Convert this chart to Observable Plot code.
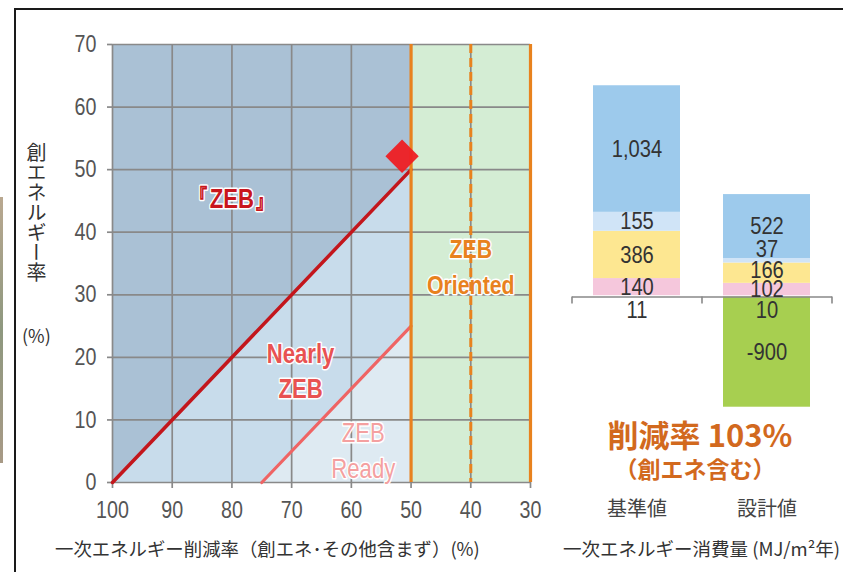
<!DOCTYPE html>
<html><head><meta charset="utf-8">
<script src="https://cdn.jsdelivr.net/npm/d3@7"></script>
<script src="https://cdn.jsdelivr.net/npm/@observablehq/plot@0.6"></script>
<style>
body{margin:0;background:#fff;}
#wrap{position:relative;width:843px;height:572px;overflow:hidden;background:#fff;font-family:"Noto Sans CJK JP",sans-serif;}
#wrap svg{position:absolute;top:0;}
.ov{position:absolute;white-space:nowrap;line-height:1;}
#strip{position:absolute;left:0;top:197px;width:3px;height:266px;background:linear-gradient(#b9a890,#8e987f,#a89a86);}
#frame{position:absolute;left:14px;top:8px;width:900px;height:700px;border-top:2.5px solid #1a1a1a;border-left:2px solid #1a1a1a;}
</style></head><body>
<div id="wrap">
  <div id="strip"></div>
  <div id="frame"></div>
</div>
<script>
// ---------- data ----------
const reductionTicks = [100, 90, 80, 70, 60, 50, 40, 30];     // 一次エネルギー削減率 (%)
const creationTicks = [0, 10, 20, 30, 40, 50, 60, 70];        // 創エネルギー率 (%)
const zebLine = [{reduction: 100, creation: 0}, {reduction: 50, creation: 50}];
const readyLine = [{reduction: 75, creation: 0}, {reduction: 50, creation: 25}];
const orientedEdges = [50, 30];
const orientedMid = [40];
const creationMax = 70;

const categories = ["基準値", "設計値"];
const segments = ["昇降機", "給湯", "照明", "換気", "空調", "創エネ"];
const baseValues = [11, 140, 386, 155, 1034, 0];
const designValues = [10, 102, 166, 37, 522, -900];
const segmentColors = ["none", "#f5c7dc", "#fde791", "#d0e4f7", "#9dcaec", "#a7cf50"];

// ---------- derived ----------
const rows = [];
categories.forEach((cat, ci) => {
  const vals = ci === 0 ? baseValues : designValues;
  segments.forEach((seg, si) => { if (vals[si] !== 0) rows.push({cat, seg, value: vals[si]}); });
});
const baseTotal = d3.sum(baseValues);
const designPos = d3.sum(designValues.filter(v => v > 0));
const designNeg = -d3.sum(designValues.filter(v => v < 0));
const designPoint = [{reduction: (baseTotal - designPos) / baseTotal * 100, creation: designNeg / baseTotal * 100}];

const [zA, zB] = zebLine, [rA, rB] = readyLine;
const darkZone = [{reduction: zA.reduction, lo: zA.creation, hi: creationMax}, {reduction: zB.reduction, lo: zB.creation, hi: creationMax}];
const midZone = [
  {reduction: zA.reduction, lo: 0, hi: zA.creation},
  {reduction: rA.reduction, lo: rA.creation, hi: zA.creation + (zA.reduction - rA.reduction)},
  {reduction: zB.reduction, lo: rB.creation, hi: zB.creation}];
const lightZone = [{reduction: rA.reduction, lo: 0, hi: rA.creation}, {reduction: rB.reduction, lo: 0, hi: rB.creation}];

const NUM = '"Liberation Sans Narrow","Liberation Sans",Arial,sans-serif';
const CJK = '"Noto Sans CJK JP",sans-serif';
const ORANGE = "#e8821e";
const GRID = "#898989";

// horizontally condense Latin/number texts (the reference uses a narrow face)
function condense(svg, f, test) {
  const num = /^-?[\d.]+$/;
  svg.querySelectorAll("text").forEach(t => {
    if (test && !test(t.textContent)) return;
    const xa = t.getAttribute("x"), ya = t.getAttribute("y");
    let tx = 0, ty = 0;
    if (xa && num.test(xa)) { tx = +xa; t.removeAttribute("x"); }
    if (ya && num.test(ya)) { ty = +ya; t.removeAttribute("y"); }
    const tr = t.getAttribute("transform") || "";
    t.setAttribute("transform", `${tr} translate(${tx},${ty}) scale(${f},1)`);
    if (tx) t.querySelectorAll("tspan").forEach(s => { const sx = s.getAttribute("x"); if (sx && num.test(sx)) s.setAttribute("x", +sx - tx); });
  });
}

// ---------- left: ZEB chart ----------
const left = Plot.plot({
  width: 560, height: 572,
  marginLeft: 112, marginRight: 30, marginTop: 44, marginBottom: 90,
  x: {domain: [100, 30]},
  y: {domain: [0, creationMax]},
  style: {fontFamily: NUM, background: "transparent", overflow: "visible"},
  marks: [
    Plot.areaY(darkZone, {x: "reduction", y1: "lo", y2: "hi", fill: "#aac1d5"}),
    Plot.areaY(midZone, {x: "reduction", y1: "lo", y2: "hi", fill: "#c8dceb"}),
    Plot.areaY(lightZone, {x: "reduction", y1: "lo", y2: "hi", fill: "#deeaf2"}),
    Plot.rect([{x1: orientedEdges[0], x2: orientedEdges[1]}], {x1: "x1", x2: "x2", y1: () => 0, y2: () => creationMax, fill: "#d4edd4"}),
    Plot.ruleX(reductionTicks, {stroke: GRID, strokeWidth: 1.7}),
    Plot.ruleY(creationTicks, {stroke: GRID, strokeWidth: 1.7}),
    Plot.axisX({ticks: reductionTicks, tickSize: 6, tickFormat: () => "", color: GRID, strokeWidth: 1.7, label: null}),
    Plot.axisX({ticks: reductionTicks, tickSize: 0, tickPadding: 18, fontSize: 24, color: "#555", label: null}),
    Plot.axisY({ticks: creationTicks, tickSize: 5, tickFormat: () => "", color: GRID, strokeWidth: 1.7, label: null}),
    Plot.axisY({ticks: creationTicks, tickSize: 0, tickPadding: 16, fontSize: 24, color: "#555", label: null}),
    Plot.line(readyLine, {x: "reduction", y: "creation", stroke: "#ef6464", strokeWidth: 3.2}),
    Plot.line(zebLine, {x: "reduction", y: "creation", stroke: "#c3161c", strokeWidth: 3.5}),
    Plot.text(["『ZEB』"], {x: () => 80, y: () => 45.2, text: d => d, fill: "#c8161d", stroke: "white", strokeWidth: 3, paintOrder: "stroke", fontWeight: "bold", fontSize: 27}),
    Plot.text(["Nearly\nZEB"], {x: () => 68.5, y: () => 18.1, text: d => d, fill: "#e85252", stroke: "white", strokeWidth: 3, paintOrder: "stroke", fontWeight: "bold", fontSize: 27, lineHeight: 1.3}),
    Plot.text(["ZEB\nReady"], {x: () => 58, y: () => 5.4, text: d => d, fill: "#f4a0a0", stroke: "white", strokeWidth: 3, paintOrder: "stroke", fontSize: 27, lineHeight: 1.33}),
    Plot.text(["ZEB\nOriented"], {x: () => 40, y: () => 34.9, text: d => d, fill: ORANGE, stroke: "white", strokeWidth: 3, paintOrder: "stroke", fontWeight: "bold", fontSize: 26, lineHeight: 1.38}),
    Plot.ruleX(orientedMid, {stroke: ORANGE, strokeWidth: 3, strokeDasharray: "9,5"}),
    Plot.ruleX(orientedEdges, {stroke: ORANGE, strokeWidth: 3.2}),
    Plot.dot(designPoint, {x: "reduction", y: "creation", symbol: "diamond2", r: 15, fill: "#ee1d23", fillOpacity: 0.95})
  ]
});
left.style.left = "0px";
document.getElementById("wrap").appendChild(left);
condense(left, 0.82);

// ---------- right: stacked bars ----------
const yDom = [-1515, 2063];
const k = 438 / (yDom[1] - yDom[0]);     // px per unit
const step = 260 / categories.length;
const fmt = v => v.toLocaleString("en-US");
const labelOpts = {x: "cat", y: "value", fontSize: 24, fill: "#333", fontFamily: NUM};
const nudged = {"設計値|換気": -11, "設計値|照明": -3};
const right = Plot.plot({
  width: 303, height: 572,
  marginLeft: 32, marginRight: 11, marginTop: 44, marginBottom: 90,
  x: {domain: categories, paddingInner: 0.33, paddingOuter: 0.165},
  y: {domain: yDom, axis: null},
  color: {domain: segments, range: segmentColors},
  style: {fontFamily: CJK, background: "transparent", overflow: "visible"},
  marks: [
    Plot.barY(rows, {x: "cat", y: "value", fill: "seg"}),
    Plot.ruleY([0], {stroke: GRID, strokeWidth: 1.6}),
    Plot.ruleX(categories, {x: d => d, y1: () => 0, y2: () => -7 / k, dx: -step / 2, stroke: GRID, strokeWidth: 1.6}),
    Plot.ruleX(categories.slice(-1), {x: d => d, y1: () => 0, y2: () => -7 / k, dx: step / 2, stroke: GRID, strokeWidth: 1.6}),
    Plot.text(rows, Plot.stackY({...labelOpts, text: d => (d.seg !== "昇降機" && !(d.cat + "|" + d.seg in nudged)) ? fmt(d.value) : null})),
    ...Object.entries(nudged).map(([key, dy]) =>
      Plot.text(rows, Plot.stackY({...labelOpts, dy, text: d => (d.cat + "|" + d.seg === key) ? fmt(d.value) : null}))),
    Plot.text(rows.filter(d => d.seg === "昇降機"), {x: "cat", y: () => 0, dy: 13, text: d => fmt(d.value), fontSize: 24, fill: "#333", fontFamily: NUM}),
    Plot.axisX({tickSize: 0, tickPadding: 19, fontSize: 20, color: "#444", label: null})
  ]
});
right.style.left = "540px";
document.getElementById("wrap").appendChild(right);
condense(right, 0.84, s => /^[-\d,]+$/.test(s.trim()));

// ---------- overlay texts ----------
function ov(text, css) {
  const d = document.createElement("div");
  d.className = "ov"; d.textContent = text; Object.assign(d.style, css);
  document.getElementById("wrap").appendChild(d);
}
ov("創エネルギー率", {left: "26px", top: "142px", fontSize: "20px", color: "#333", writingMode: "vertical-rl", textOrientation: "upright"});
ov("(%)", {left: "22px", top: "326px", fontSize: "18px", color: "#333"});
ov("一次エネルギー削減率（創エネ･その他含まず）(%)", {left: "55px", top: "539px", fontSize: "18.4px", color: "#333"});
ov("一次エネルギー消費量 (MJ/m²年)", {left: "563px", top: "539px", fontSize: "18.5px", color: "#333"});
ov("削減率 103%", {left: "600px", width: "200px", textAlign: "center", top: "418px", fontSize: "31px", fontWeight: "bold", color: "#d2691e"});
ov("（創エネ含む）", {left: "595px", width: "200px", textAlign: "center", top: "457px", fontSize: "23px", fontWeight: "bold", color: "#d2691e"});
</script>
</body></html>
